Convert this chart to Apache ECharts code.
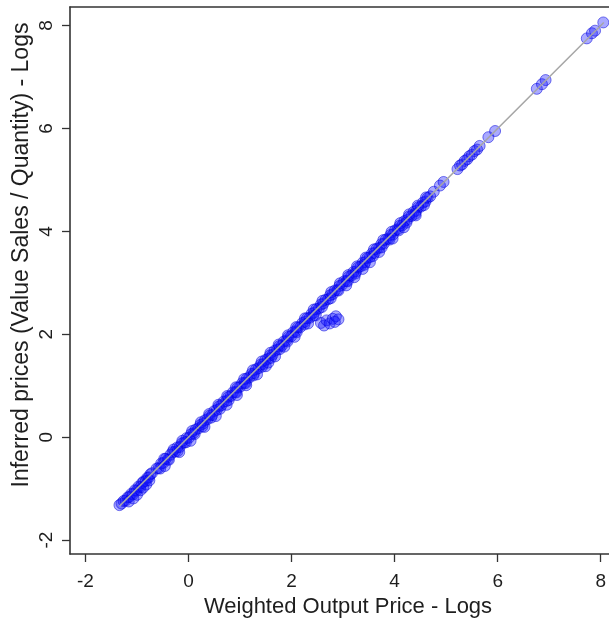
<!DOCTYPE html>
<html>
<head>
<meta charset="utf-8">
<script src="https://cdn.jsdelivr.net/npm/echarts@6/dist/echarts.min.js"></script>
<style>
  html, body { margin: 0; padding: 0; background: #ffffff; }
  #chart { width: 609px; height: 621px; }
</style>
</head>
<body>
<div id="chart"></div>
<script>
// Tick positions shared by both axes (log units)
const tickValues = [-2, 0, 2, 4, 6, 8];

// Lowest-priced observations
const lowTail = [
  [-1.34,-1.32],[-1.30,-1.29],[-1.26,-1.24],[-1.22,-1.23],[-1.18,-1.17],[-1.15,-1.16],
  [-1.11,-1.10],[-1.08,-1.11],[-1.04,-1.03],[-1.01,-1.04],[-0.97,-0.96],[-0.94,-0.97],
  [-0.90,-0.89],[-0.87,-0.86],[-0.83,-0.85],[-0.80,-0.79],[-0.77,-0.78],[-0.74,-0.72],
  [-0.71,-0.70],
  [-1.16,-1.25],[-1.07,-1.19],[-1.00,-1.12],[-0.93,-1.03],[-0.88,-0.98],[-0.82,-0.92],
  [-0.76,-0.84]
];

// Dense core of the distribution
const mainBand = [
  [-0.62,-0.61],[-0.58,-0.60],[-0.53,-0.51],[-0.49,-0.50],[-0.44,-0.42],[-0.40,-0.43],
  [-0.35,-0.34],[-0.31,-0.29],[-0.26,-0.28],[-0.22,-0.20],[-0.17,-0.19],[-0.13,-0.12],
  [-0.08,-0.10],[-0.04,-0.02],[0.01,-0.01],[0.05,0.06],[0.10,0.08],[0.14,0.15],
  [0.19,0.17],[0.23,0.24],[0.28,0.26],[0.32,0.33],[0.37,0.35],[0.41,0.42],
  [0.46,0.43],[0.50,0.51],[0.55,0.53],[0.59,0.60],[0.64,0.62],[0.68,0.69],
  [0.73,0.70],[0.77,0.78],[0.82,0.80],[0.86,0.87],[0.91,0.88],[0.95,0.96],
  [1.00,0.98],[1.04,1.05],[1.09,1.06],[1.13,1.14],[1.18,1.16],[1.22,1.23],
  [1.27,1.24],[1.31,1.32],[1.36,1.34],[1.40,1.41],[1.45,1.42],[1.49,1.50],
  [1.54,1.52],[1.58,1.59],[1.63,1.60],[1.67,1.68],[1.72,1.70],[1.76,1.77],
  [1.81,1.78],[1.85,1.86],[1.90,1.88],[1.94,1.95],[1.99,1.96],[2.03,2.04],
  [2.08,2.06],[2.12,2.13],[2.17,2.14],[2.21,2.22],[2.26,2.24],[2.30,2.31],
  [2.35,2.32],[2.39,2.40],[2.44,2.42],[2.48,2.49],[2.53,2.50],[2.57,2.58],
  [2.62,2.60],[2.66,2.67],[2.71,2.68],[2.75,2.76],[2.80,2.78],[2.84,2.85],
  [2.89,2.86],[2.93,2.94],[2.98,2.96],[3.02,3.03],[3.07,3.04],[3.11,3.12],
  [3.16,3.14],[3.20,3.21],[3.25,3.22],[3.29,3.30],[3.34,3.32],[3.38,3.39],
  [3.43,3.40],[3.47,3.48],[3.52,3.50],[3.56,3.57],[3.61,3.58],[3.65,3.66],
  [3.70,3.68],[3.74,3.75],[3.79,3.76],[3.83,3.84],[3.88,3.86],[3.92,3.93],
  [3.97,3.94],[4.01,4.02],[4.06,4.04],[4.10,4.11],[4.15,4.12],[4.19,4.20],
  [4.24,4.22],[4.28,4.29],[4.33,4.30],[4.37,4.38],[4.42,4.40],[4.46,4.47],
  [4.51,4.48],[4.55,4.56],[4.60,4.58],[4.64,4.65],[4.69,4.68]
];

// Observations sitting just under the diagonal
const lowerRow = [
  [-0.55,-0.61],[-0.38,-0.44],[-0.21,-0.27],[-0.05,-0.10],[0.12,0.06],[0.27,0.21],
  [0.44,0.38],[0.61,0.55],[0.78,0.72],[0.93,0.87],[1.11,1.05],[1.26,1.20],
  [1.43,1.37],[1.60,1.54],[1.77,1.71],[1.92,1.86],[2.10,2.04],[2.25,2.19],
  [2.42,2.36],[2.59,2.53],[2.76,2.70],[2.91,2.85],[3.09,3.03],[3.24,3.18],
  [3.41,3.35],[3.58,3.52],[3.75,3.69],[3.90,3.84],[4.08,4.02],[4.23,4.17],
  [4.40,4.34],[4.57,4.51]
];

// Observations just above the diagonal
const upperRow = [
  [-0.47,-0.42],[-0.29,-0.24],[-0.12,-0.07],[0.07,0.12],[0.24,0.29],[0.40,0.45],
  [0.58,0.63],[0.75,0.80],[0.92,0.97],[1.08,1.13],[1.25,1.30],[1.42,1.47],
  [1.59,1.64],[1.75,1.80],[1.93,1.98],[2.09,2.14],[2.26,2.31],[2.43,2.48],
  [2.60,2.65],[2.77,2.82],[2.94,2.99],[3.10,3.15],[3.27,3.32],[3.44,3.49],
  [3.60,3.65],[3.78,3.83],[3.94,3.99],[4.11,4.16],[4.28,4.33],[4.45,4.50],
  [4.61,4.66]
];

// Scattered observations further below the diagonal
const lowerOutliers = [
  [-0.46,-0.56],[-0.18,-0.29],[0.04,-0.07],[0.31,0.20],[0.53,0.41],[0.74,0.63],
  [0.94,0.82],[1.12,1.01],[1.33,1.22],[1.50,1.38],[1.55,1.45],[1.68,1.57],
  [1.86,1.76],[2.06,1.95],[2.32,2.21],[2.47,2.37],[3.06,2.95],[3.22,3.11],
  [3.38,3.27],[3.52,3.40],[3.70,3.60],[3.96,3.86],[4.18,4.08],[4.41,4.31]
];

// Group of products whose inferred price sits well under the output price
const offCluster = [
  [2.57,2.22],[2.63,2.17],[2.68,2.27],[2.74,2.21],[2.80,2.30],[2.86,2.35],
  [2.91,2.29],[2.84,2.24]
];

// Highest-priced observations
const upperTail = [
  [4.76,4.77],[4.88,4.89],[4.95,4.96],[5.22,5.21],[5.27,5.28],[5.31,5.30],
  [5.36,5.37],[5.41,5.40],[5.45,5.46],[5.50,5.49],[5.55,5.56],[5.60,5.59],
  [5.65,5.66],[5.82,5.83],[5.95,5.95],[6.76,6.77],[6.86,6.86],[6.93,6.94],
  [7.73,7.75],[7.83,7.85],[7.89,7.90],[8.05,8.06]
];

// 45-degree reference line
const fitLine = [[-1.34,-1.34],[8.06,8.06]];

const FONT = '"Liberation Sans", Arial, sans-serif';
const INK = '#1e1e1e';
const AXIS = '#333333';

const pointStyle = {
  color: 'rgba(20, 20, 255, 0.45)',
  borderColor: 'rgba(0, 0, 220, 0.65)',
  borderWidth: 1
};

function scatterSeries(data) {
  return {
    type: 'scatter',
    data: data,
    symbol: 'circle',
    symbolSize: 11,
    itemStyle: pointStyle,
    silent: true,
    z: 2
  };
}

const chart = echarts.init(document.getElementById('chart'), null, { renderer: 'canvas' });

chart.setOption({
  animation: false,
  backgroundColor: '#ffffff',
  grid: { left: 70, right: 0, top: 7, bottom: 67, containLabel: false },
  xAxis: [
    {
      type: 'value',
      min: -2.3,
      max: 8.16,
      splitLine: { show: false },
      axisLine: { show: true, onZero: false, lineStyle: { color: AXIS, width: 1.6 } },
      axisTick: { show: true, inside: false, length: 8, customValues: tickValues,
                  lineStyle: { color: AXIS, width: 1.3 } },
      axisLabel: { customValues: tickValues, margin: 18, fontSize: 19,
                   fontFamily: FONT, color: INK }
    },
    {
      type: 'value',
      position: 'top',
      min: -2.3,
      max: 8.16,
      splitLine: { show: false },
      axisLine: { show: true, onZero: false, lineStyle: { color: AXIS, width: 1.6 } },
      axisTick: { show: false },
      axisLabel: { show: false }
    }
  ],
  yAxis: {
    type: 'value',
    min: -2.27,
    max: 8.36,
    splitLine: { show: false },
    axisLine: { show: true, onZero: false, lineStyle: { color: AXIS, width: 1.6 } },
    axisTick: { show: true, inside: false, length: 8, customValues: tickValues,
                lineStyle: { color: AXIS, width: 1.3 } },
    axisLabel: { customValues: tickValues, rotate: 90, margin: 14, fontSize: 19,
                 fontFamily: FONT, color: INK }
  },
  graphic: [
    {
      type: 'text',
      x: 348, y: 607,
      style: { text: 'Weighted Output Price - Logs', font: '22px ' + FONT,
               fill: INK, align: 'center', verticalAlign: 'middle' }
    },
    {
      type: 'text',
      x: 22, y: 255,
      rotation: Math.PI / 2,
      style: { text: 'Inferred prices (Value Sales / Quantity) - Logs', font: '23px ' + FONT,
               fill: INK, align: 'center', verticalAlign: 'middle' }
    }
  ],
  series: [
    scatterSeries(lowTail),
    scatterSeries(mainBand),
    scatterSeries(lowerRow),
    scatterSeries(upperRow),
    scatterSeries(lowerOutliers),
    scatterSeries(offCluster),
    scatterSeries(upperTail),
    {
      type: 'line',
      data: fitLine,
      showSymbol: false,
      symbol: 'none',
      silent: true,
      lineStyle: { color: '#a6a6a6', width: 1.5 },
      z: 5
    }
  ]
});
</script>
</body>
</html>
